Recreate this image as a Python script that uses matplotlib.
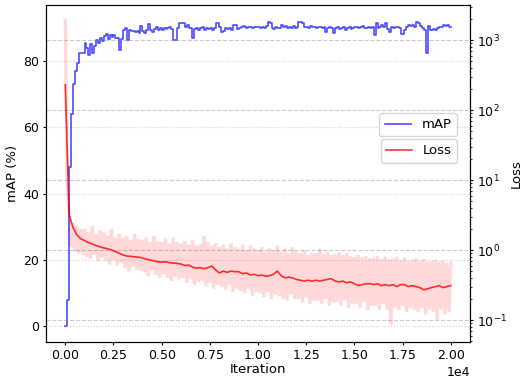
import numpy as np
import matplotlib
matplotlib.use('Agg')
import matplotlib.pyplot as plt

plt.rcParams['font.size'] = 9.5
plt.rcParams['xtick.labelsize'] = 9
plt.rcParams['ytick.labelsize'] = 9
plt.rcParams['xtick.major.size'] = 2.5
plt.rcParams['ytick.major.size'] = 2.5
plt.rcParams['ytick.minor.size'] = 1.5
plt.rcParams['xtick.major.pad'] = 2.5
plt.rcParams['ytick.major.pad'] = 2.5

# mAP evaluated every 100 iterations
map_iters = np.arange(0, 20001, 100)
map_vals = [
    0, 8, 48, 64, 73, 77, 79.5, 82.4, 82.4, 82.4,
    85.4, 84.0, 81.8, 85.0, 82.4, 84.5, 86.3, 85.5, 87.0, 86.0,
    87.5, 88.2, 86.5, 87.8, 87.2, 88.0, 87.0, 86.8, 83.3, 86.5,
    89.5, 90.0, 86.3, 89.5, 89.0, 89.2, 88.8, 89.0, 88.5, 90.5,
    89.0, 88.6, 89.4, 91.2, 89.5, 88.8, 89.6, 90.2, 89.4, 89.9,
    89.4, 90.0, 89.6, 89.9, 90.2, 89.6, 86.3, 86.3, 89.9, 91.4,
    91.6, 91.4, 90.4, 91.0, 90.0, 89.9, 86.8, 89.6, 89.9, 89.4,
    89.9, 90.2, 89.4, 89.9, 89.6, 90.0, 89.4, 89.9, 91.4, 91.6,
    90.4, 88.9, 89.2, 90.0, 89.6, 89.9, 89.4, 90.9, 91.0, 89.6,
    89.9, 90.4, 90.6, 90.4, 89.9, 90.4, 90.2, 89.9, 90.4, 90.2,
    90.4, 89.9, 90.2, 90.0, 90.6, 91.8, 91.6, 89.9, 89.6, 90.4,
    90.0, 89.9, 90.9, 90.2, 90.6, 89.9, 90.4, 90.0, 90.6, 89.9,
    90.4, 91.9, 91.9, 91.4, 90.2, 90.4, 89.9, 90.6, 90.2, 90.4,
    90.0, 90.4, 90.2, 89.9, 90.4, 88.9, 89.9, 90.2, 90.0, 88.4,
    89.9, 90.4, 89.6, 89.9, 90.2, 89.4, 89.9, 90.4, 89.6, 89.9,
    90.2, 90.4, 89.9, 90.2, 90.6, 89.9, 90.0, 90.4, 89.9, 90.2,
    87.8, 91.5, 89.9, 90.4, 90.9, 90.2, 91.4, 89.6, 88.9, 90.4,
    89.9, 90.2, 90.4, 89.9, 88.2, 88.2, 89.4, 90.4, 90.9, 90.6,
    90.9, 90.4, 91.8, 91.6, 90.6, 89.9, 89.4, 82.4, 90.6, 89.4,
    89.4, 89.6, 89.4, 89.9, 90.4, 90.2, 90.9, 90.6, 91.0, 90.4,
    90.2,
]

# raw loss logged every 100 iterations
raw_iters = np.arange(0, 20001, 100)
raw_loss = [
    1900, 8.0, 3.5, 1.1, 2.4, 0.95, 2.2, 0.9, 2.0, 0.85,
    2.0, 0.8, 1.8, 0.75, 2.2, 0.85, 1.7, 0.7, 1.9, 0.78,
    1.8, 0.7, 1.6, 0.62, 2.0, 0.72, 1.5, 0.6, 1.7, 0.66,
    1.5, 0.55, 1.6, 0.5, 1.4, 0.58, 1.7, 0.52, 1.45, 0.5,
    1.4, 0.48, 1.5, 0.42, 1.3, 0.5, 1.6, 0.44, 1.35, 0.4,
    1.3, 0.45, 1.45, 0.4, 1.25, 0.36, 1.5, 0.42, 1.3, 0.38,
    1.25, 0.4, 1.35, 0.34, 1.2, 0.38, 1.4, 0.32, 1.15, 0.35,
    1.2, 0.36, 1.6, 0.3, 1.3, 0.34, 1.15, 0.28, 1.25, 0.32,
    1.1, 0.3, 1.2, 0.27, 1.05, 0.32, 1.25, 0.25, 1.1, 0.28,
    1.05, 0.26, 1.2, 0.24, 1.0, 0.28, 1.15, 0.22, 1.05, 0.25,
    1.0, 0.24, 1.1, 0.21, 0.95, 0.25, 1.05, 0.2, 0.98, 0.23,
    1.15, 0.22, 0.95, 0.2, 1.05, 0.19, 0.9, 0.23, 1.1, 0.2,
    0.95, 0.2, 0.9, 0.18, 1.0, 0.21, 0.85, 0.17, 0.92, 0.19,
    0.9, 0.19, 1.05, 0.17, 0.88, 0.2, 0.95, 0.16, 0.85, 0.18,
    0.88, 0.18, 0.92, 0.16, 0.85, 0.19, 0.9, 0.15, 0.82, 0.17,
    0.8, 0.17, 0.85, 0.15, 0.78, 0.18, 0.82, 0.14, 0.76, 0.16,
    0.78, 0.16, 0.82, 0.14, 0.75, 0.17, 0.8, 0.14, 0.74, 0.085,
    0.76, 0.15, 0.8, 0.14, 0.72, 0.16, 0.78, 0.13, 0.7, 0.15,
    0.72, 0.14, 0.76, 0.13, 0.7, 0.15, 0.74, 0.12, 0.68, 0.14,
    0.7, 0.13, 0.72, 0.1, 0.68, 0.14, 0.7, 0.12, 0.66, 0.13,
    0.65,
]

# smoothed loss every 200 iterations
smooth_iters = np.arange(0, 20001, 200)
smooth_loss = [
    230, 3.2, 2.1, 1.65, 1.45, 1.36, 1.28, 1.22, 1.16, 1.11,
    1.07, 1.04, 1.00, 0.95, 0.90, 0.85, 0.82, 0.81, 0.80, 0.79,
    0.77, 0.74, 0.72, 0.70, 0.68, 0.67, 0.68, 0.66, 0.65, 0.645,
    0.63, 0.60, 0.61, 0.57, 0.55, 0.56, 0.54, 0.56, 0.59, 0.52,
    0.47, 0.50, 0.48, 0.50, 0.49, 0.49, 0.46, 0.47, 0.44, 0.45,
    0.43, 0.44, 0.42, 0.43, 0.45, 0.50, 0.43, 0.40, 0.41, 0.40,
    0.38, 0.37, 0.36, 0.37, 0.36, 0.37, 0.36, 0.37, 0.38, 0.39,
    0.36, 0.35, 0.36, 0.34, 0.35, 0.33, 0.31, 0.32, 0.33, 0.33,
    0.32, 0.33, 0.31, 0.32, 0.31, 0.32, 0.30, 0.32, 0.32, 0.30,
    0.31, 0.30, 0.29, 0.27, 0.28, 0.29, 0.30, 0.31, 0.29, 0.30,
    0.31,
]

fig = plt.figure(figsize=(5.24, 3.78), dpi=100)
ax1 = fig.add_axes([0.0878, 0.0952, 0.8092, 0.8915])
ax2 = ax1.twinx()

ax1.plot(map_iters, map_vals, color='blue', alpha=0.7, lw=1.2,
         drawstyle='steps-post', label='mAP')
ax1.set_ylim(-4.8, 96.9)
ax1.set_xlim(-1000, 21000)
ax1.set_yticks([0, 20, 40, 60, 80])
ax1.set_xlabel('Iteration', labelpad=1)
ax1.set_ylabel('mAP (%)', labelpad=3)
ax1.ticklabel_format(axis='x', style='sci', scilimits=(0, 0))
ax1.grid(True, axis='y', linestyle=':', color='lightgray', lw=0.8)

# raw loss: thick translucent zigzag so the noise reads as a filled band
ax2.plot(raw_iters, raw_loss, color='red', alpha=0.15, lw=2.4, solid_joinstyle='miter')
ax2.plot(smooth_iters, smooth_loss, color='red', alpha=0.8, lw=1.2, label='Loss')
ax2.set_yscale('log')
ax2.set_ylim(0.0485, 3160)
ax2.set_ylabel('Loss', labelpad=2)
ax2.grid(True, which='major', axis='y', linestyle='--', color='gray', alpha=0.4, lw=0.8)

ax1.legend(loc='upper right', bbox_to_anchor=(0.969, 0.68), borderaxespad=0)
ax2.legend(loc='upper right', bbox_to_anchor=(0.969, 0.602), borderaxespad=0)

fig.savefig('out.png', dpi=100)
